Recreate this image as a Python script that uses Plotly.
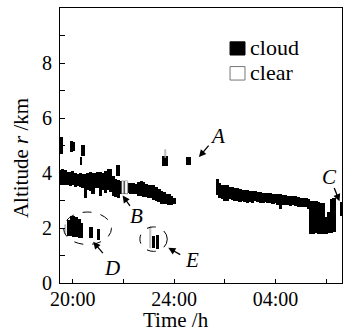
import plotly.graph_objects as go

# ---- data (time in hours, 24 = 24:00, 28 = 04:00 next day; altitude in km) ----
main1_t = [19.5, 19.6, 19.7, 19.8, 19.9, 20.0, 20.1, 20.2, 20.3, 20.4, 20.5, 20.6, 20.7, 20.8,
           20.9, 21.0, 21.1, 21.2, 21.3, 21.4, 21.5, 21.6, 21.7, 21.8, 21.9, 22.0, 22.1, 22.2,
           22.3, 22.4, 22.5, 22.6, 22.7, 22.8, 22.9, 23.0, 23.1, 23.2, 23.3, 23.4, 23.5, 23.6,
           23.7, 23.8, 23.9, 24.0]
main1_top = [4.12, 4.14, 4.10, 4.04, 4.03, 4.06, 3.99, 3.98, 4.01, 3.96, 3.98, 4.01, 4.03, 3.99,
             4.01, 4.03, 4.04, 4.01, 4.06, 4.13, 4.16, 3.88, 3.78, 3.75, 3.70, 3.70, 3.68, 3.64,
             3.62, 3.65, 3.60, 3.68, 3.70, 3.66, 3.60, 3.58, 3.55, 3.55, 3.50, 3.42, 3.35, 3.30,
             3.25, 3.22, 3.15, 3.10]
main1_base = [3.58, 3.58, 3.56, 3.55, 3.53, 3.55, 3.50, 3.52, 3.50, 3.45, 3.08, 3.40, 3.36, 3.22,
              3.45, 3.45, 3.18, 3.40, 3.28, 3.40, 3.32, 3.18, 3.13, 3.08, 3.22, 3.25, 3.23, 3.27,
              3.25, 3.23, 3.22, 3.18, 3.18, 3.13, 3.13, 3.10, 3.08, 3.03, 2.98, 2.93, 2.88, 2.88,
              2.86, 2.84, 2.84, 2.86]

main2_t = [25.7, 25.8, 25.9, 26.0, 26.1, 26.2, 26.3, 26.4, 26.5, 26.6, 26.7, 26.8, 26.9, 27.0,
           27.1, 27.2, 27.3, 27.4, 27.5, 27.6, 27.7, 27.8, 27.9, 28.0, 28.1, 28.2, 28.3, 28.4,
           28.5, 28.6, 28.7, 28.8, 28.9, 29.0, 29.1, 29.2, 29.3, 29.4, 29.5, 29.6, 29.7, 29.8,
           29.9, 30.0, 30.1, 30.2, 30.3, 30.6]
main2_top = [3.78, 3.62, 3.58, 3.55, 3.55, 3.50, 3.48, 3.45, 3.45, 3.42, 3.40, 3.38, 3.38, 3.36,
             3.35, 3.33, 3.32, 3.30, 3.28, 3.27, 3.28, 3.27, 3.25, 3.25, 3.22, 3.22, 3.20, 3.20,
             3.18, 3.15, 3.15, 3.15, 3.12, 3.10, 3.10, 3.08, 3.05, 2.98, 2.98, 2.97, 2.95, 2.92,
             2.90, 2.40, 2.60, 3.05, 3.10, 2.95]
main2_base = [3.20, 3.10, 3.05, 3.00, 3.00, 3.05, 3.02, 2.98, 3.00, 2.95, 3.00, 2.95, 2.90, 2.95,
              2.92, 3.00, 2.95, 2.92, 2.90, 2.95, 2.90, 2.92, 2.88, 2.90, 2.85, 2.70, 2.85, 2.82,
              2.85, 2.80, 2.82, 2.80, 2.78, 2.75, 2.78, 2.75, 2.70, 1.80, 1.78, 1.82, 1.80, 1.78,
              1.80, 1.80, 1.82, 1.82, 1.85, 2.45]

upper_t = [19.55, 19.95, 20.05, 20.40, 20.33, 21.8, 23.65, 24.55]
upper_top = [5.30, 5.15, 5.12, 5.03, 4.60, 4.30, 4.62, 4.60]
upper_base = [4.68, 4.78, 4.80, 4.62, 4.30, 3.88, 4.25, 4.30]
upper_w = [0.14, 0.11, 0.11, 0.14, 0.09, 0.17, 0.22, 0.20]

low_t = [19.85, 19.95, 20.05, 20.15, 20.25, 20.35, 20.72, 21.02, 23.18, 23.33]
low_top = [2.30, 2.42, 2.42, 2.40, 2.32, 2.20, 2.02, 1.96, 1.72, 1.76]
low_base = [1.72, 1.70, 1.68, 1.66, 1.65, 1.64, 1.64, 1.58, 1.27, 1.24]
low_w = [0.12, 0.12, 0.12, 0.12, 0.12, 0.12, 0.13, 0.13, 0.12, 0.12]

clear_t = [19.72, 21.97, 22.12, 23.07, 23.67]
clear_top = [2.10, 3.72, 3.70, 2.04, 4.85]
clear_base = [1.78, 3.22, 3.25, 1.27, 4.55]
clear_w = [0.07, 0.09, 0.09, 0.06, 0.05]

# dashed ellipses: x0, x1, y0, y1
ell_D = [19.64, 21.53, 1.40, 2.58]
ell_E = [22.65, 23.73, 1.15, 2.04]

# labels: (letter, text x, text y, arrow tail x, tail y, tip x, tip y)
labels = [
    ("A", 25.72, 5.33, 25.41, 5.05, 24.98, 4.58),
    ("B", 22.50, 2.45, 22.30, 2.75, 21.97, 3.18),
    ("C", 30.13, 3.85, 30.29, 3.51, 30.52, 2.97),
    ("D", 21.55, 0.55, 21.24, 1.03, 20.81, 1.50),
    ("E", 24.70, 0.82, 24.30, 1.00, 23.77, 1.28),
]

legend_names = ["cloud", "clear"]

x_tickvals = [20, 22, 24, 26, 28, 30]
x_ticktext = ["20:00", "", "24:00", "", "04:00", ""]
y_tickvals = [0, 1, 2, 3, 4, 5, 6, 7, 8, 9, 10]
y_ticktext = ["0", "", "2", "", "4", "", "6", "", "8", "", ""]

FONT = "Liberation Serif, Times New Roman, serif"


def span(top, base):
    return [t - b for t, b in zip(top, base)]


fig = go.Figure()
for t, top, base, w in ((main1_t, main1_top, main1_base, 0.13),
                        (main2_t, main2_top, main2_base, 0.13),
                        (upper_t, upper_top, upper_base, upper_w),
                        (low_t, low_top, low_base, low_w)):
    fig.add_trace(go.Bar(x=t, y=span(top, base), base=base, width=w,
                         marker=dict(color="black", line=dict(width=0)), name=legend_names[0],
                         showlegend=False, hoverinfo="skip"))
fig.add_trace(go.Bar(x=clear_t, y=span(clear_top, clear_base), base=clear_base, width=clear_w,
                     marker=dict(color="white", line=dict(width=0.5, color="#777777")),
                     name=legend_names[1], showlegend=False, hoverinfo="skip"))

for e in (ell_D, ell_E):
    fig.add_shape(type="circle", xref="x", yref="y", x0=e[0], x1=e[1], y0=e[2], y1=e[3],
                  line=dict(color="black", width=1, dash="dash"))

for (lab, tx, ty, ax, ay, hx, hy) in labels:
    fig.add_annotation(x=tx, y=ty, xref="x", yref="y", text="<i>%s</i>" % lab,
                       showarrow=False, font=dict(family=FONT, size=21, color="black"))
    fig.add_annotation(x=hx, y=hy, ax=ax, ay=ay, xref="x", yref="y", axref="x", ayref="y",
                       text="", showarrow=True, arrowhead=2, arrowsize=1.1, arrowwidth=1.3,
                       arrowcolor="black")

# legend (swatch + label), placed in the upper right of the plot area
fig.add_shape(type="rect", xref="paper", yref="paper", x0=0.603, x1=0.656, y0=0.829, y1=0.877,
              fillcolor="black", line=dict(color="black", width=1))
fig.add_shape(type="rect", xref="paper", yref="paper", x0=0.603, x1=0.656, y0=0.738, y1=0.787,
              fillcolor="white", line=dict(color="#777777", width=1))
fig.add_annotation(x=0.668, y=0.857, xref="paper", yref="paper", text=legend_names[0],
                   showarrow=False, xanchor="left", yanchor="middle",
                   font=dict(family=FONT, size=22, color="black"))
fig.add_annotation(x=0.668, y=0.766, xref="paper", yref="paper", text=legend_names[1],
                   showarrow=False, xanchor="left", yanchor="middle",
                   font=dict(family=FONT, size=22, color="black"))

# axis titles
fig.add_annotation(x=0.411, y=-0.135, xref="paper", yref="paper", text="Time /h",
                   showarrow=False, xanchor="center", yanchor="middle",
                   font=dict(family=FONT, size=21, color="black"))
fig.add_annotation(x=-0.136, y=0.453, xref="paper", yref="paper", text="Altitude <i>r</i> /km",
                   showarrow=False, xanchor="center", yanchor="middle", textangle=-90,
                   font=dict(family=FONT, size=21, color="black"))

fig.update_layout(
    width=343, height=331,
    margin=dict(l=60, r=1, t=8, b=48),
    paper_bgcolor="white", plot_bgcolor="white",
    barmode="overlay", bargap=0,
    font=dict(family=FONT, size=20, color="black"),
    showlegend=False,
)
fig.update_xaxes(range=[19.5, 30.62], tickvals=x_tickvals, ticktext=x_ticktext,
                 ticks="inside", ticklen=4, tickcolor="black", showline=True, linecolor="black",
                 linewidth=1, mirror=True, showgrid=False, zeroline=False,
                 tickfont=dict(family=FONT, size=20), ticklabelstandoff=-2)
fig.update_yaxes(range=[0, 10], tickvals=y_tickvals, ticktext=y_ticktext,
                 ticks="inside", ticklen=5, tickcolor="black", showline=True, linecolor="black",
                 linewidth=1, mirror=True, showgrid=False, zeroline=False,
                 tickfont=dict(family=FONT, size=20), ticklabelstandoff=3)

fig.write_html("out.html")
